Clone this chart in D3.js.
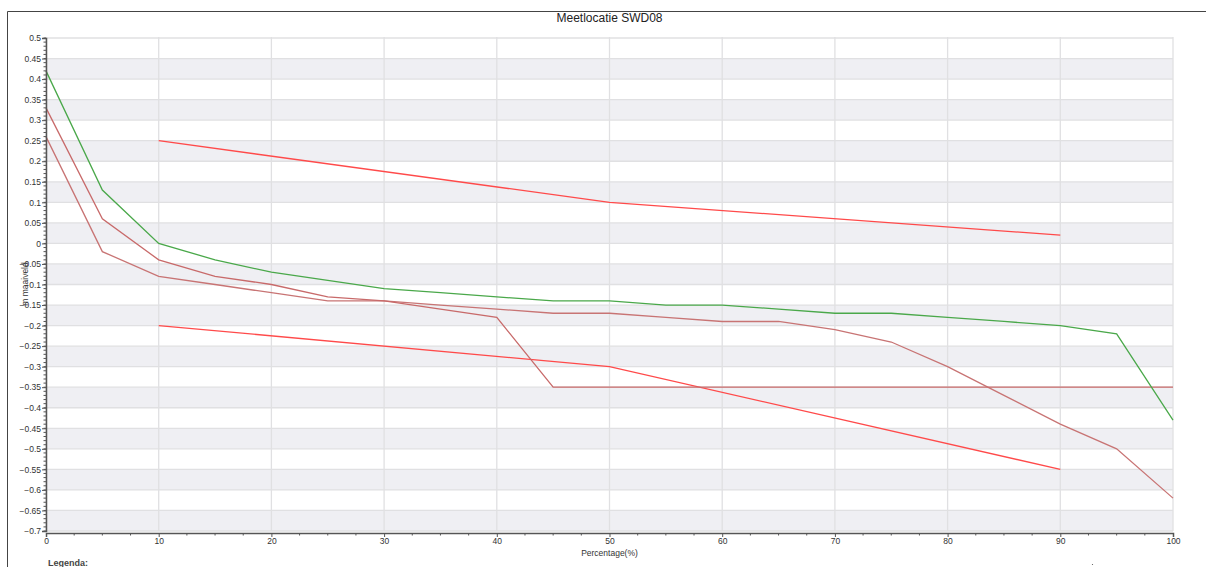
<!DOCTYPE html>
<html>
<head>
<meta charset="utf-8">
<script src="https://cdn.jsdelivr.net/npm/d3@7"></script>
<style>
  html, body { margin: 0; padding: 0; background: #fff; }
  svg { display: block; font-family: "Liberation Sans", Arial, sans-serif; }
</style>
</head>
<body>
<div id="wrapper"></div>
<script>
// DATA
const percentages = [0, 5, 10, 15, 20, 25, 30, 35, 40, 45, 50, 55, 60, 65, 70, 75, 80, 85, 90, 95, 100];
const greenValues = [0.42, 0.13, 0.0, -0.04, -0.07, -0.09, -0.11, -0.12, -0.13, -0.14, -0.14, -0.15, -0.15, -0.16, -0.17, -0.17, -0.18, -0.19, -0.20, -0.22, -0.43];
const brownAValues = [0.33, 0.06, -0.04, -0.08, -0.10, -0.13, -0.14, -0.16, -0.18, -0.35, -0.35, -0.35, -0.35, -0.35, -0.35, -0.35, -0.35, -0.35, -0.35, -0.35, -0.35];
const brownBValues = [0.26, -0.02, -0.08, -0.10, -0.12, -0.14, -0.14, -0.15, -0.16, -0.17, -0.17, -0.18, -0.19, -0.19, -0.21, -0.24, -0.30, -0.37, -0.44, -0.50, -0.62];
const redPercentages = [10, 50, 90];
const redUpperValues = [0.25, 0.10, 0.02];
const redLowerValues = [-0.20, -0.30, -0.55];

const yTicks = d3.range(-0.7, 0.5001, 0.05).map(v => +v.toFixed(2));
const xTicks = [0, 10, 20, 30, 40, 50, 60, 70, 80, 90, 100];

const title = "Meetlocatie SWD08";
const xLabel = "Percentage(%)";
const yLabel = "m maaiveld";

// DIMENSIONS
const dimensions = {
  width: 1206,
  height: 567,
  margin: { top: 38, right: 33, bottom: 36, left: 46 },
};
dimensions.boundedWidth = dimensions.width - dimensions.margin.left - dimensions.margin.right;
dimensions.boundedHeight = dimensions.height - dimensions.margin.top - dimensions.margin.bottom;

const wrapper = d3.select("#wrapper")
  .append("svg")
  .attr("width", dimensions.width)
  .attr("height", dimensions.height);

// outer frame
wrapper.append("path")
  .attr("d", `M7.5,${dimensions.height} V11.5 H${dimensions.width}`)
  .attr("fill", "none")
  .attr("stroke", "#444")
  .attr("stroke-width", 1);

wrapper.append("text")
  .attr("x", dimensions.margin.left + dimensions.boundedWidth / 2)
  .attr("y", 22)
  .attr("text-anchor", "middle")
  .attr("font-size", 12)
  .attr("fill", "#222")
  .text(title);

const bounds = wrapper.append("g")
  .attr("transform", `translate(${dimensions.margin.left},${dimensions.margin.top})`);

// SCALES
const xScale = d3.scaleLinear().domain([0, 100]).range([0, dimensions.boundedWidth]);
const yScale = d3.scaleLinear().domain([-0.7, 0.5]).range([dimensions.boundedHeight, 0]);

// alternating bands
const bands = d3.range(-0.7, 0.45, 0.1).map(v => +v.toFixed(2));
bounds.append("g").selectAll("rect")
  .data(bands)
  .join("rect")
  .attr("x", 0)
  .attr("width", dimensions.boundedWidth)
  .attr("y", d => yScale(d + 0.05))
  .attr("height", d => yScale(d) - yScale(d + 0.05))
  .attr("fill", "#efeff3");

// grid
bounds.append("g").selectAll("line")
  .data(yTicks)
  .join("line")
  .attr("x1", 0)
  .attr("x2", dimensions.boundedWidth)
  .attr("y1", d => yScale(d))
  .attr("y2", d => yScale(d))
  .attr("stroke", "#e0e0e2")
  .attr("stroke-width", 1.3);

bounds.append("g").selectAll("line")
  .data(xTicks)
  .join("line")
  .attr("x1", d => xScale(d))
  .attr("x2", d => xScale(d))
  .attr("y1", -1)
  .attr("y2", dimensions.boundedHeight)
  .attr("stroke", "#e0e0e2")
  .attr("stroke-width", 1.3);

// LINES
const lineGenerator = d3.line()
  .x(d => xScale(d[0]))
  .y(d => yScale(d[1]));

const series = [
  { x: redPercentages, y: redUpperValues, color: "#ff4a4a" },
  { x: redPercentages, y: redLowerValues, color: "#ff4a4a" },
  { x: percentages, y: brownBValues, color: "#c87474" },
  { x: percentages, y: brownAValues, color: "#c86a6a" },
  { x: percentages, y: greenValues, color: "#4aa84a" },
];

bounds.append("g").selectAll("path")
  .data(series)
  .join("path")
  .attr("d", s => lineGenerator(s.x.map((x, i) => [x, s.y[i]])))
  .attr("fill", "none")
  .attr("stroke", s => s.color)
  .attr("stroke-width", 1.3);

// AXES
const yAxis = bounds.append("g")
  .call(d3.axisLeft(yScale).tickValues(yTicks).tickSize(4).tickPadding(1)
    .tickFormat(d => d3.format("")(d)));
yAxis.select(".domain").attr("stroke", "#555").attr("stroke-width", 1.5);
yAxis.selectAll(".tick line").attr("stroke", "#555");
yAxis.selectAll(".tick text").attr("font-size", 8.5).attr("fill", "#333").attr("font-family", "Liberation Sans, Arial, sans-serif");

// minor ticks on y
bounds.append("g").selectAll("line")
  .data(d3.range(-0.7, 0.5001, 0.01).map(v => +v.toFixed(2)))
  .join("line")
  .attr("x1", -2.5)
  .attr("x2", 0)
  .attr("y1", d => yScale(d))
  .attr("y2", d => yScale(d))
  .attr("stroke", "#555");

const xAxis = bounds.append("g")
  .attr("transform", `translate(0,${dimensions.boundedHeight + 2})`)
  .call(d3.axisBottom(xScale).tickValues(xTicks).tickSize(4).tickPadding(1));
xAxis.select(".domain").attr("stroke", "#555").attr("stroke-width", 1.5);
xAxis.selectAll(".tick line").attr("stroke", "#555");
xAxis.selectAll(".tick text").attr("font-size", 8.5).attr("fill", "#333").attr("font-family", "Liberation Sans, Arial, sans-serif");

// minor ticks on x
xAxis.append("g").selectAll("line")
  .data(d3.range(2.5, 100, 2.5).filter(v => v % 10 !== 0))
  .join("line")
  .attr("x1", d => xScale(d))
  .attr("x2", d => xScale(d))
  .attr("y1", 0)
  .attr("y2", 2.5)
  .attr("stroke", "#555");

// axis labels
wrapper.append("text")
  .attr("x", dimensions.margin.left + dimensions.boundedWidth / 2)
  .attr("y", 556)
  .attr("text-anchor", "middle")
  .attr("font-size", 8.5)
  .attr("fill", "#333")
  .text(xLabel);

wrapper.append("text")
  .attr("transform", "translate(28,284) rotate(-90)")
  .attr("text-anchor", "middle")
  .attr("font-size", 8.5)
  .attr("fill", "#333")
  .text(yLabel);

wrapper.append("text")
  .attr("x", 48)
  .attr("y", 566)
  .attr("font-size", 9)
  .attr("font-weight", "bold")
  .attr("fill", "#444")
  .text("Legenda:");

wrapper.append("circle")
  .attr("cx", 1092.5)
  .attr("cy", 564.5)
  .attr("r", 0.6)
  .attr("fill", "#555");
</script>
</body>
</html>
